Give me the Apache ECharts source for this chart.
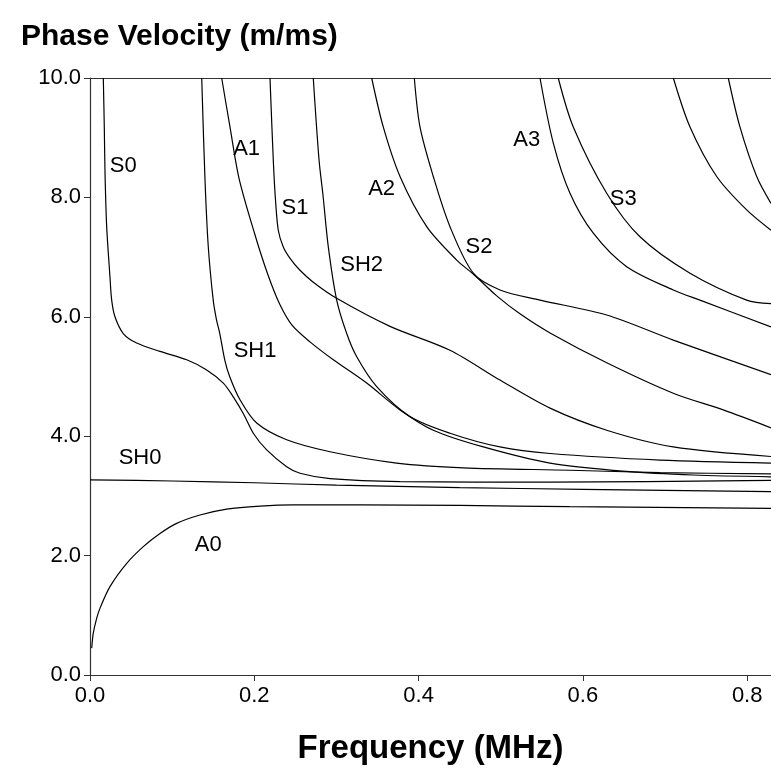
<!DOCTYPE html>
<html>
<head>
<meta charset="utf-8">
<title>Phase Velocity</title>
<script src="https://cdn.jsdelivr.net/npm/echarts@6/dist/echarts.min.js"></script>
<style>
  html, body { margin: 0; padding: 0; background: #fff; }
  #chart { width: 771px; height: 774px; }
</style>
</head>
<body>
<div id="chart"></div>
<script>
  // dispersion curves, [frequency (MHz), phase velocity (m/ms)]
  let a0 = [[0.0021, 0.45], [0.004, 0.70], [0.0081, 0.95], [0.0122, 1.12], [0.0243, 1.48], [0.0447, 1.87], [0.0649, 2.15], [0.0852, 2.37], [0.1055, 2.54], [0.1339, 2.68], [0.1664, 2.78], [0.207, 2.83], [0.2475, 2.85], [0.3287, 2.85], [0.45, 2.84], [0.584, 2.82], [0.829, 2.79]];
  let sh0 = [[0, 3.27], [0.1, 3.25], [0.2, 3.22], [0.3, 3.18], [0.45, 3.14], [0.6, 3.11], [0.829, 3.07]];
  let s0 = [[0.0162, 10.0], [0.0174, 9.18], [0.0183, 8.40], [0.0203, 7.51], [0.0243, 6.67], [0.0264, 6.28], [0.0304, 6.00], [0.0405, 5.72], [0.0568, 5.56], [0.0852, 5.42], [0.1177, 5.28], [0.142, 5.11], [0.1623, 4.89], [0.1744, 4.66], [0.1866, 4.38], [0.1988, 4.05], [0.2151, 3.77], [0.2394, 3.49], [0.2556, 3.38], [0.2922, 3.29], [0.3774, 3.24], [0.56, 3.23], [0.829, 3.26]];
  let sh1 = [[0.136, 10.0], [0.140, 8.29], [0.144, 7.17], [0.150, 6.28], [0.154, 5.95], [0.158, 5.72], [0.164, 5.28], [0.170, 5.00], [0.1826, 4.61], [0.2029, 4.22], [0.2394, 3.94], [0.2922, 3.74], [0.3733, 3.55], [0.4544, 3.47], [0.5843, 3.43], [0.6939, 3.39], [0.829, 3.37]];
  let a1 = [[0.1603, 10.0], [0.1704, 9.18], [0.1814, 8.32], [0.2009, 7.37], [0.2167, 6.70], [0.2313, 6.20], [0.2459, 5.86], [0.2678, 5.58], [0.2962, 5.28], [0.3368, 4.89], [0.3774, 4.44], [0.4179, 4.10], [0.4788, 3.82], [0.560, 3.55], [0.6533, 3.41], [0.7344, 3.35], [0.829, 3.32]];
  let s1 = [[0.2191, 10.0], [0.2231, 8.63], [0.2256, 8.0], [0.2292, 7.45], [0.2353, 7.17], [0.2435, 6.98], [0.2556, 6.78], [0.2718, 6.58], [0.3003, 6.31], [0.3652, 5.84], [0.4382, 5.44], [0.4991, 4.94], [0.560, 4.47], [0.629, 4.10], [0.710, 3.82], [0.829, 3.66]];
  let sh2 = [[0.2718, 10.0], [0.2788, 8.63], [0.2836, 8.04], [0.2901, 7.17], [0.3003, 6.28], [0.3125, 5.72], [0.3247, 5.33], [0.349, 4.83], [0.3895, 4.33], [0.4382, 4.05], [0.4991, 3.82], [0.56, 3.71], [0.6939, 3.60], [0.829, 3.55]];
  let a2 = [[0.3429, 10.0], [0.357, 9.18], [0.3774, 8.35], [0.4099, 7.51], [0.4464, 6.95], [0.4662, 6.72], [0.4951, 6.35], [0.5234, 6.05], [0.560, 5.73], [0.629, 5.23], [0.710, 4.72], [0.7709, 4.44], [0.829, 4.14]];
  let s2 = [[0.3948, 10.0], [0.4017, 9.18], [0.4179, 8.35], [0.4382, 7.51], [0.4666, 6.73], [0.4991, 6.45], [0.5478, 6.28], [0.629, 6.03], [0.710, 5.61], [0.829, 5.03]];
  let a3 = [[0.5478, 10.0], [0.564, 8.91], [0.5843, 8.07], [0.6127, 7.40], [0.6533, 6.84], [0.710, 6.45], [0.7425, 6.28], [0.829, 5.83]];
  let s3 = [[0.570, 10.0], [0.5883, 9.18], [0.629, 8.07], [0.6695, 7.34], [0.7304, 6.73], [0.7994, 6.28], [0.829, 6.22]];
  let a4 = [[0.7101, 10.0], [0.7304, 9.18], [0.7629, 8.35], [0.7994, 7.79], [0.829, 7.45]];
  let s4 = [[0.777, 10.0], [0.7912, 9.18], [0.8116, 8.35], [0.829, 7.90]];

  // mode labels placed in the plot
  let labelNames = ['S0', 'A1', 'S1', 'A2', 'SH2', 'S2', 'A3', 'S3', 'SH1', 'SH0', 'A0'];
  let labelFreq = [0.0405, 0.1907, 0.2495, 0.355, 0.3307, 0.4735, 0.5316, 0.6492, 0.2009, 0.0609, 0.144];
  let labelVel = [8.53, 8.81, 7.83, 8.15, 6.87, 7.17, 8.96, 7.98, 5.42, 3.63, 2.18];

  let font = '"Liberation Sans", Arial, sans-serif';
  let curves = [a0, sh0, s0, sh1, a1, s1, sh2, a2, s2, a3, s3, a4, s4];
  let series = [];
  for (let i = 0; i < curves.length; i++) {
    series.push({
      type: 'line',
      data: curves[i],
      showSymbol: false,
      smooth: 0.3,
      clip: true,
      lineStyle: { color: '#000', width: 1.2 }
    });
  }
  let labelData = [];
  for (let i = 0; i < labelNames.length; i++) {
    labelData.push({ name: labelNames[i], value: [labelFreq[i], labelVel[i]] });
  }
  series.push({
    type: 'scatter',
    data: labelData,
    symbolSize: 0,
    silent: true,
    itemStyle: { opacity: 1 },
    label: {
      show: true,
      position: 'inside',
      formatter: '{b}',
      color: '#000',
      textBorderWidth: 0,
      fontSize: 22,
      fontFamily: font
    }
  });

  let myChart = echarts.init(document.getElementById('chart'));
  myChart.setOption({
    animation: false,
    backgroundColor: '#fff',
    title: {
      text: 'Phase Velocity (m/ms)',
      left: 16,
      top: 17,
      textStyle: { fontSize: 30, fontWeight: 'bold', color: '#000', fontFamily: font }
    },
    grid: { left: 90, top: 78, right: 0, bottom: 99 },
    xAxis: [{
      type: 'value',
      min: 0,
      max: 0.829,
      interval: 0.2,
      name: 'Frequency (MHz)',
      nameLocation: 'middle',
      nameGap: 57,
      nameTextStyle: { fontSize: 33, fontWeight: 'bold', color: '#000', fontFamily: font },
      axisLine: { show: true, lineStyle: { color: '#333', width: 1.2 } },
      axisTick: { show: true, length: 6, lineStyle: { color: '#333' } },
      axisLabel: {
        showMaxLabel: false,
        color: '#000',
        fontSize: 22,
        fontFamily: font,
        margin: 10,
        formatter: function (v) { return v.toFixed(1); }
      },
      splitLine: { show: false }
    }, {
      type: 'value',
      position: 'top',
      min: 0,
      max: 0.829,
      axisLine: { show: true, onZero: false, lineStyle: { color: '#333', width: 1.2 } },
      axisTick: { show: false },
      axisLabel: { show: false },
      splitLine: { show: false }
    }],
    yAxis: {
      type: 'value',
      min: 0,
      max: 10,
      interval: 2,
      axisLine: { show: true, lineStyle: { color: '#333', width: 1.2 } },
      axisTick: { show: true, length: 6, lineStyle: { color: '#333' } },
      axisLabel: {
        color: '#000',
        fontSize: 22,
        fontFamily: font,
        margin: 9,
        formatter: function (v) { return v.toFixed(1); }
      },
      splitLine: { show: false }
    },
    series: series
  });
</script>
</body>
</html>
